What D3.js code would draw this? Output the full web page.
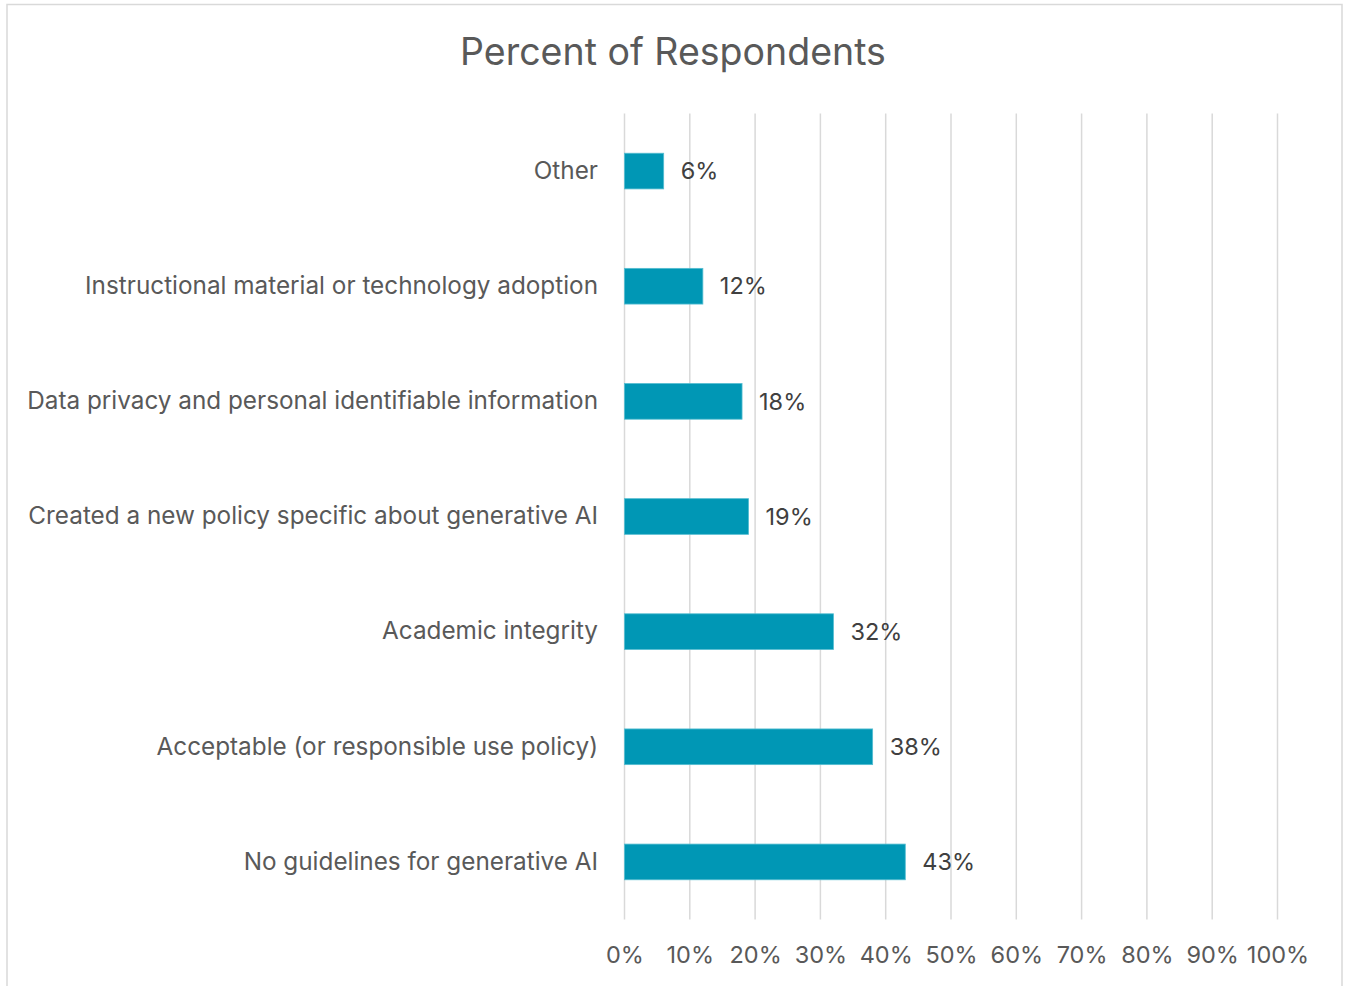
<!DOCTYPE html>
<html>
<head>
<meta charset="utf-8">
<script src="https://cdn.jsdelivr.net/npm/d3@7"></script>
<style>
  html, body { margin: 0; padding: 0; background: #fff; }
  svg { display: block; }
  text { font-family: "Inter", "Open Sans", sans-serif; fill: #595959; }
</style>
</head>
<body>
<svg id="chart" width="1345" height="986"></svg>
<script>
// Policy categories, listed top to bottom
const categories = [
  "Other",
  "Instructional material or technology adoption",
  "Data privacy and personal identifiable information",
  "Created a new policy specific about generative AI",
  "Academic integrity",
  "Acceptable (or responsible use policy)",
  "No guidelines for generative AI"
];
// Share of respondents, in percent
const values = [6, 12, 18, 19, 32, 38, 43];
// Axis ticks, in percent
const ticks = [0, 10, 20, 30, 40, 50, 60, 70, 80, 90, 100];
const title = "Percent of Respondents";

const svg = d3.select("#chart");

// Chart frame
svg.append("rect")
  .attr("x", 7).attr("y", 4.5)
  .attr("width", 1335).attr("height", 1000)
  .attr("fill", "#fff")
  .attr("stroke", "#d9d9d9")
  .attr("stroke-width", 1.5);

const x = d3.scaleLinear().domain([0, 100]).range([624.5, 1277.5]);
const y = d3.scaleBand().domain(categories)
  .range([113.5, 919.5])
  .paddingInner(0.69)
  .paddingOuter(0.345);

// Vertical gridlines
svg.append("g").selectAll("line").data(ticks).join("line")
  .attr("x1", d => x(d)).attr("x2", d => x(d))
  .attr("y1", y.range()[0]).attr("y2", y.range()[1])
  .attr("stroke", "#d9d9d9")
  .attr("stroke-width", 1.5);

// Bottom axis labels
const xAxis = d3.axisBottom(x).tickValues(ticks).tickFormat(d => d + "%").tickSize(0).tickPadding(0);
const gx = svg.append("g").attr("transform", "translate(0,946)").call(xAxis);
gx.select(".domain").remove();
gx.selectAll("text")
  .attr("dy", "0.71em")
  .style("font-size", "23.5px")
  .attr("fill", "#595959");

// Category labels
const yAxis = d3.axisLeft(y).tickSize(0).tickPadding(0);
const gy = svg.append("g").attr("transform", "translate(598,0)").call(yAxis);
gy.select(".domain").remove();
gy.selectAll("text")
  .style("font-size", "24.3px")
  .attr("fill", "#595959");

// Bars
svg.append("g").selectAll("rect").data(values).join("rect")
  .attr("x", x(0))
  .attr("y", (d, i) => y(categories[i]))
  .attr("width", d => x(d) - x(0))
  .attr("height", y.bandwidth())
  .attr("fill", "#0097b5")
  .attr("stroke", "#55bdd1")
  .attr("stroke-width", 0.8);

// Value labels
svg.append("g").selectAll("text").data(values).join("text")
  .attr("x", d => x(d) + 17)
  .attr("y", (d, i) => y(categories[i]) + y.bandwidth() / 2)
  .attr("dy", "0.35em")
  .style("font-size", "23.5px")
  .style("fill", "#404040")
  .text(d => d + "%");

// Title
svg.append("text")
  .attr("x", 673).attr("y", 52)
  .attr("text-anchor", "middle")
  .attr("dy", "0.35em")
  .style("font-size", "37.5px")
  .text(title);
</script>
</body>
</html>
